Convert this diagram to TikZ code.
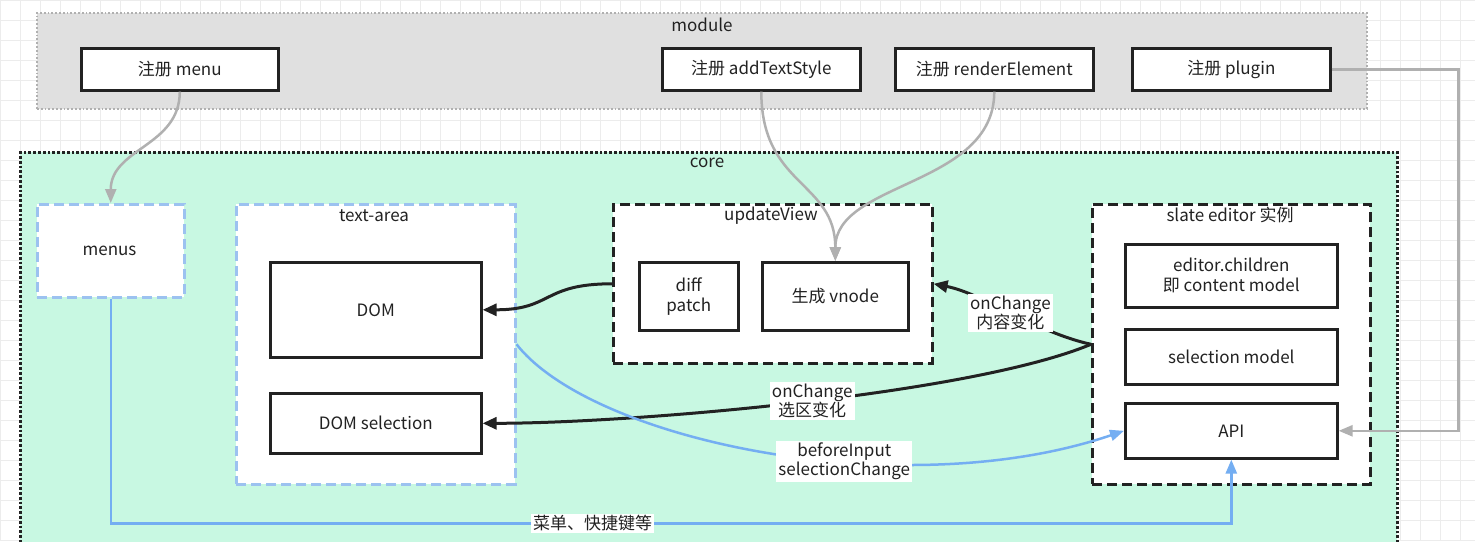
\documentclass[tikz,border=0pt]{standalone}
\usepackage{fontspec}
\setmainfont{Noto Sans CJK SC}
\usetikzlibrary{arrows.meta}
\definecolor{modgray}{HTML}{E0E0E0}
\definecolor{coregreen}{HTML}{C8F8E2}
\definecolor{lblue}{HTML}{9CC2F0}
\definecolor{eblue}{HTML}{74AEF2}
\definecolor{egray}{HTML}{B0B0B0}
\definecolor{gridc}{HTML}{ECECEC}
\definecolor{ink}{HTML}{222222}
\tikzset{
  every node/.style={font=\fontsize{17}{20}\selectfont, text=ink},
  solidbox/.style={draw=ink, line width=2.6pt, fill=white, anchor=north west, inner sep=0pt, align=center},
  bluebox/.style={draw=lblue, line width=2.5pt, dash pattern=on 10pt off 5pt, fill=white, anchor=north west, inner sep=0pt},
  blackdbox/.style={draw=ink, line width=2.6pt, dash pattern=on 10pt off 5pt, fill=white, anchor=north west, inner sep=0pt},
  title/.style={inner sep=0pt},
  grayarrow/.style={draw=egray, line width=2.5pt, -{Triangle[length=14pt,width=11pt]}},
  blackarrow/.style={draw=ink, line width=3pt, -{Triangle[length=14pt,width=12pt]}},
  bluearrow/.style={draw=eblue, line width=2.5pt, -{Triangle[length=14pt,width=11pt]}},
  lbl/.style={fill=white, inner sep=2pt, align=center, font=\fontsize{17}{19}\selectfont},
}
\begin{document}
\begin{tikzpicture}[x=1pt, y=-1pt]
\useasboundingbox (0,0) rectangle (1475,541);
\fill[white] (0,0) rectangle (1475,541);
\draw[gridc, line width=1pt, step=20pt] (0,0) grid (1475,541);

% module container
\node[draw=egray, line width=1.8pt, dotted, fill=modgray, anchor=north west, minimum width=1330pt, minimum height=96pt, inner sep=0pt] (module) at (36,12) {};
\node[title] (modulet) at (702,25) {module};
\node[solidbox, minimum width=197pt, minimum height=42pt] (regmenu) at (80,47) {注册 menu};
\node[solidbox, minimum width=198pt, minimum height=42pt] (regstyle) at (661,47) {注册 addTextStyle};
\node[solidbox, minimum width=198pt, minimum height=42pt] (regrender) at (894,47) {注册 renderElement};
\node[solidbox, minimum width=198pt, minimum height=42pt] (regplugin) at (1131,47) {注册 plugin};

% core container
\node[draw=ink, line width=2.8pt, dotted, fill=coregreen, anchor=north west, minimum width=1377pt, minimum height=420pt, inner sep=0pt] (core) at (19,151) {};
\node[title] (coret) at (707,163) {core};

% menus
\node[bluebox, minimum width=147pt, minimum height=93pt] (menus) at (36,203) {};
\node (menust) at (109.5,251) {menus};

% text-area
\node[bluebox, minimum width=279pt, minimum height=280pt] (textarea) at (235,203) {};
\node[title] (textareat) at (374,216) {text-area};
\node[solidbox, minimum width=211pt, minimum height=95pt] (dom) at (269,261) {DOM};
\node[solidbox, minimum width=211pt, minimum height=60pt] (domsel) at (269,392) {DOM selection};

% updateView
\node[blackdbox, minimum width=319pt, minimum height=159pt] (upd) at (612,203) {};
\node[title] (updt) at (771,216) {updateView};
\node[solidbox, minimum width=99pt, minimum height=68pt] (diff) at (638,261) {diff\\patch};
\node[solidbox, minimum width=146pt, minimum height=68pt] (vnode) at (761,261) {生成 vnode};

% slate editor
\node[blackdbox, minimum width=278pt, minimum height=280pt] (slate) at (1091,203) {};
\node[title] (slatet) at (1230,215) {slate editor 实例};
\node[solidbox, minimum width=212pt, minimum height=63pt] (children) at (1124,243) {editor.children\\即 content model};
\node[solidbox, minimum width=212pt, minimum height=55pt] (selmodel) at (1124,328) {selection model};
\node[solidbox, minimum width=212pt, minimum height=55pt] (api) at (1124,402) {API};

% gray connectors from module
\draw[grayarrow] (regmenu.south) .. controls +(0,55) and +(0,-55) .. (menus.north);
\draw[grayarrow] (regstyle.south) .. controls +(0,95) and +(0,-80) .. (vnode.north);
\draw[grayarrow] (regrender.south) .. controls +(0,95) and +(0,-80) .. (vnode.north);
\draw[grayarrow] (regplugin.east) -- ++(127,0) coordinate (pcorner) |- (api.east);

% black connectors
\draw[blackarrow] (upd.west) .. controls +(-70,0) and +(70,0) .. (dom.east);
\draw[blackarrow] (slate.west) .. controls +(-55,-12) and +(50,10) .. node[lbl, pos=0.5] {onChange\\内容变化} (upd.east);
\draw[blackarrow] (slate.west) .. controls +(-120,50) and +(150,0) .. node[lbl, pos=0.48] {onChange\\选区变化} (domsel.east);

% blue connectors
\draw[bluearrow] (textarea.east) .. controls +(76,97) and +(-220,75) .. node[lbl, pos=0.61] {beforeInput\\selectionChange} (api.west);
\draw[bluearrow] (menus.south) -- ++(0,225) coordinate (mcorner) -| node[lbl, pos=0.215] {菜单、快捷键等} (api.south);
\end{tikzpicture}
\end{document}
